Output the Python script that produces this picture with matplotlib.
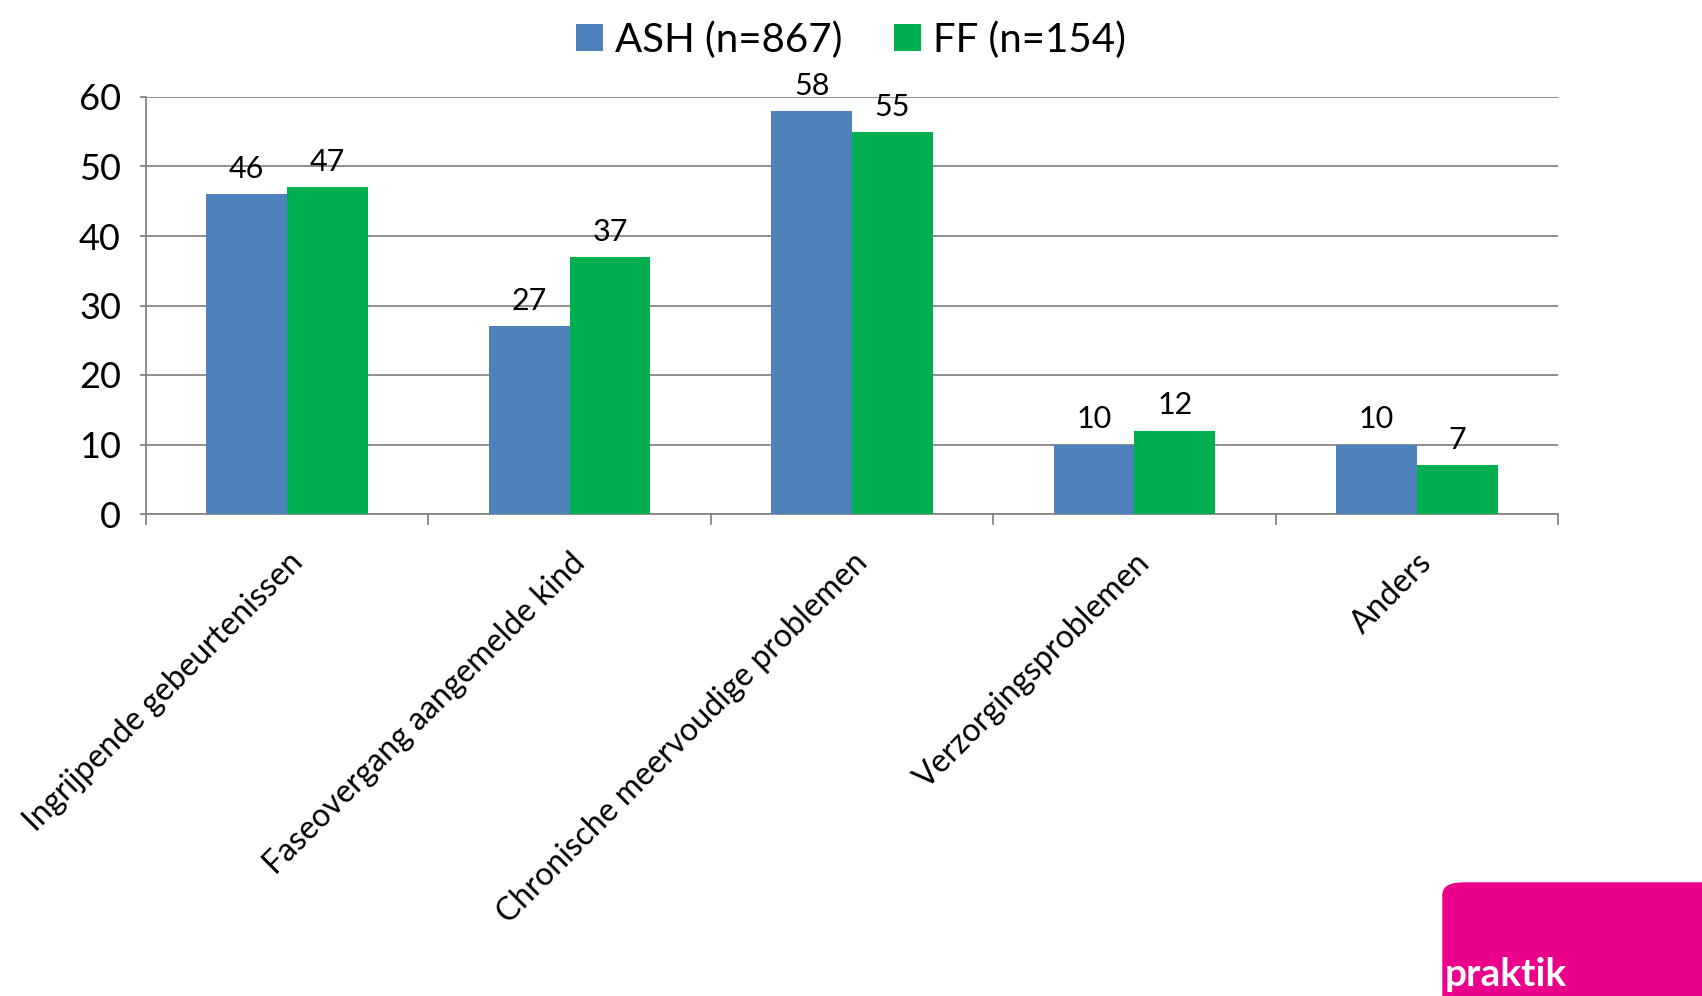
import numpy as np
import matplotlib.pyplot as plt
from matplotlib.patches import FancyBboxPatch

plt.rcParams['font.family'] = ['Lato', 'DejaVu Sans']

categories = ["Ingrijpende gebeurtenissen", "Faseovergang aangemelde kind",
              "Chronische meervoudige problemen", "Verzorgingsproblemen", "Anders"]
ash = [46, 27, 58, 10, 10]
ff = [47, 37, 55, 12, 7]
series_names = ["ASH (n=867)", "FF (n=154)"]

fig = plt.figure(figsize=(17.02, 9.96), dpi=100)
ax = fig.add_axes([146 / 1702, 1 - 514 / 996, (1558 - 146) / 1702, (514 - 97) / 996])

x = np.arange(len(categories))
w = 0.286
b1 = ax.bar(x - w / 2, ash, w, color="#4F81BD", label=series_names[0], zorder=3)
b2 = ax.bar(x + w / 2, ff, w, color="#00B050", label=series_names[1], zorder=3)
ax.bar_label(b1, padding=8, fontsize=22)
ax.bar_label(b2, padding=8, fontsize=22)

ax.set_xlim(-0.5, len(categories) - 0.5)
ax.set_ylim(0, 60)
ax.set_yticks(range(0, 61, 10))
ax.yaxis.grid(True, color="#868686", linewidth=1.3, zorder=0)
ax.tick_params(axis="y", labelsize=26, length=4, color="#868686", width=1.3, pad=14)

# category ticks on the boundaries, labels in the middle
ax.set_xticks(np.arange(-0.5, len(categories), 1.0))
ax.set_xticklabels([])
ax.set_xticks(x, minor=True)
ax.set_xticklabels(categories, minor=True, rotation=45, ha="right",
                   rotation_mode="anchor", fontsize=23)
ax.tick_params(axis="x", which="major", length=8, color="#868686", width=1.3)
ax.tick_params(axis="x", which="minor", length=0, pad=24)

for s in ["top", "right"]:
    ax.spines[s].set_visible(False)
ax.spines["left"].set_color("#868686")
ax.spines["left"].set_linewidth(1.3)
ax.spines["bottom"].set_color("#868686")
ax.spines["bottom"].set_linewidth(1.3)

fig.legend(loc="upper center", bbox_to_anchor=(0.5, 1.015), ncol=2, frameon=False,
           fontsize=29, handlelength=0.65, handleheight=0.65, handletextpad=0.3,
           columnspacing=1.3)

# logo corner
logo = FancyBboxPatch((1443 / 1702, -0.05), 0.2, 0.05 + 113 / 996,
                      boxstyle="round,pad=0,rounding_size=0.012",
                      transform=fig.transFigure, color="#EA008A", clip_on=False)
fig.patches.append(logo)
fig.text(1445 / 1702, 4 / 996, "praktik", color="white", fontsize=28,
         fontweight="bold", ha="left", va="bottom")

plt.savefig("out.png")
